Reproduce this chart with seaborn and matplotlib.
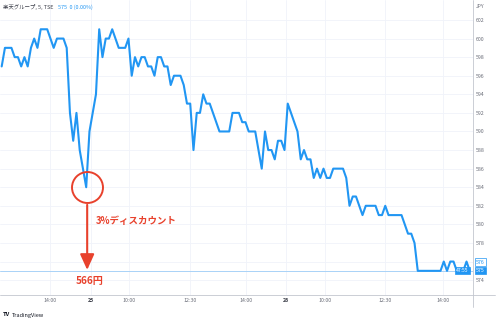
import matplotlib
matplotlib.use("Agg")
import matplotlib.pyplot as plt
from matplotlib.lines import Line2D
import numpy as np
import pandas as pd
import seaborn as sns

# ---- data (5-minute closes, JPY) ----
day24 = [597, 599, 599, 599, 598, 598, 597, 598, 597, 599, 600, 599, 601, 601, 601,
         600, 599, 600, 600, 600, 599, 592, 589, 592, 588, 586, 584]
day25 = [590, 592, 594, 601, 598, 600, 600, 601, 600, 599, 599, 599, 600, 596, 598,
         597, 598, 598, 597, 597, 596, 598, 598, 597, 597, 595, 596, 596, 596, 595,
         593, 593, 588, 592, 592, 594, 593, 593, 592, 591, 590, 590, 590, 590, 592,
         592, 592, 591, 591, 590, 590, 590, 588, 586, 590, 588, 588, 587, 589, 589]
day26 = [588, 593, 592, 591, 590, 587, 588, 587, 587, 585, 586, 585, 586, 585, 585,
         586, 586, 586, 586, 585, 582, 583, 583, 582, 581, 582, 582, 582, 582, 581,
         581, 582, 581, 581, 581, 581, 581, 580, 579, 579, 578, 575, 575, 575, 575,
         575, 575, 575, 575, 576, 575, 576, 576, 575, 575, 575, 576, 575]
prices = day24 + day25 + day26

tick_labels = ["14:00", "25", "10:00", "12:30", "14:00", "26", "10:00", "12:30", "14:00"]
tick_pos = [14.9, 27.5, 39.2, 57.9, 75.3, 87.5, 99.5, 118.0, 135.8]
y_ticks = list(range(574, 604, 2))

low_price = 584
low_idx = 26
discount_label = "3%ディスカウント"
target_label = "566円"
last_price = 575
prev_high_label = 576

df = pd.DataFrame({"i": np.arange(len(prices)), "price": prices})

sns.set_theme(style="white")
plt.rcParams["font.family"] = ["Noto Sans CJK JP", "DejaVu Sans"]

W, H = 500, 323
fig = plt.figure(figsize=(W / 100, H / 100), dpi=100)
ax_right = 472.7 / W
ax_bottom = 1 - 295 / H
ax = fig.add_axes([0, ax_bottom, ax_right, 1 - ax_bottom])

BLUE = "#2196f3"
RED = "#e8412c"
GRID = "#f0f3fa"
TXT = "#6a6d78"

sns.lineplot(data=df, x="i", y="price", ax=ax, color=BLUE, linewidth=1.5, zorder=3)

# price line
ax.axhline(last_price, color="#a9d2f7", linewidth=0.7, zorder=2)

ax.set_xlim(-0.52, 144.9)
ax.set_ylim(572.4, 604.15)
ax.set_xlabel("")
ax.set_ylabel("")

ax.set_yticks(y_ticks)
ax.set_yticklabels([str(v) for v in y_ticks])
ax.yaxis.tick_right()
ax.tick_params(axis="y", length=0, pad=2.5, labelsize=3.8, labelcolor=TXT)
ax.set_xticks(tick_pos)
ax.set_xticklabels(tick_labels)
ax.tick_params(axis="x", length=0, pad=2.2, labelsize=3.8, labelcolor=TXT)
for lbl in ax.get_xticklabels():
    if lbl.get_text() in ("25", "26"):
        lbl.set_fontweight("bold")
        lbl.set_color("#3a3d48")

ax.grid(True, color=GRID, linewidth=0.6)
ax.set_axisbelow(True)
for s in ax.spines.values():
    s.set_visible(False)

# axis separators
fig.add_artist(Line2D([0, 495 / W], [ax_bottom, ax_bottom], color="#c3c6cf", linewidth=0.6))
fig.add_artist(Line2D([ax_right, ax_right], [1 - 307 / H, 1], color="#c3c6cf", linewidth=0.6))

# annotation: circle, arrow, labels
ax.plot([low_idx + 0.3], [low_price], marker="o", markersize=22.3, markerfacecolor="none",
        markeredgecolor=RED, markeredgewidth=1.4, zorder=5, clip_on=False)
ax.annotate("", xy=(low_idx + 0.3, 575.1), xytext=(low_idx + 0.3, 582.1),
            arrowprops=dict(arrowstyle="-|>,head_length=0.95,head_width=0.43",
                            color=RED, lw=1.5, shrinkA=0, shrinkB=0, mutation_scale=10),
            zorder=5)
ax.text(29.0, 580.4, discount_label, color=RED, fontsize=6.8, fontweight="bold",
        ha="left", va="center", zorder=6)
ax.text(27.0, 573.9, target_label, color=RED, fontsize=7.3, fontweight="bold",
        ha="center", va="center", zorder=6, clip_on=False)

# title
t1 = fig.text(3 / W, 1 - 7 / H, "楽天グループ, 5, TSE", fontsize=3.9, color="#3a3d48",
              ha="left", va="center")
fig.text(58 / W, 1 - 7 / H, "575  0 (0.00%)", fontsize=3.9, color=BLUE,
         ha="left", va="center")
fig.text(480 / W, 1 - 7 / H, "JPY", fontsize=3.6, color=TXT, ha="center", va="center")

# price labels
fig.text(480.5 / W, 1 - 262 / H, str(prev_high_label), fontsize=3.8, color=BLUE, ha="center",
         va="center", bbox=dict(boxstyle="square,pad=0.25", fc="white", ec=BLUE, lw=0.5))
fig.text(480.5 / W, 1 - 270.5 / H, str(last_price), fontsize=3.8, color="white", ha="center",
         va="center", bbox=dict(boxstyle="square,pad=0.25", fc=BLUE, ec=BLUE, lw=0.5))
fig.text(462.5 / W, 1 - 270.5 / H, "47:55", fontsize=3.6, color="white", ha="center",
         va="center", bbox=dict(boxstyle="square,pad=0.25", fc=BLUE, ec=BLUE, lw=0.5))

# footer
fig.text(3 / W, 1 - 315 / H, "TV", fontsize=4.2, fontweight="bold", color="#131722",
         ha="left", va="center")
fig.text(12 / W, 1 - 315 / H, "TradingView", fontsize=4.0, color="#131722",
         ha="left", va="center")

fig.savefig("out.png", dpi=100)
